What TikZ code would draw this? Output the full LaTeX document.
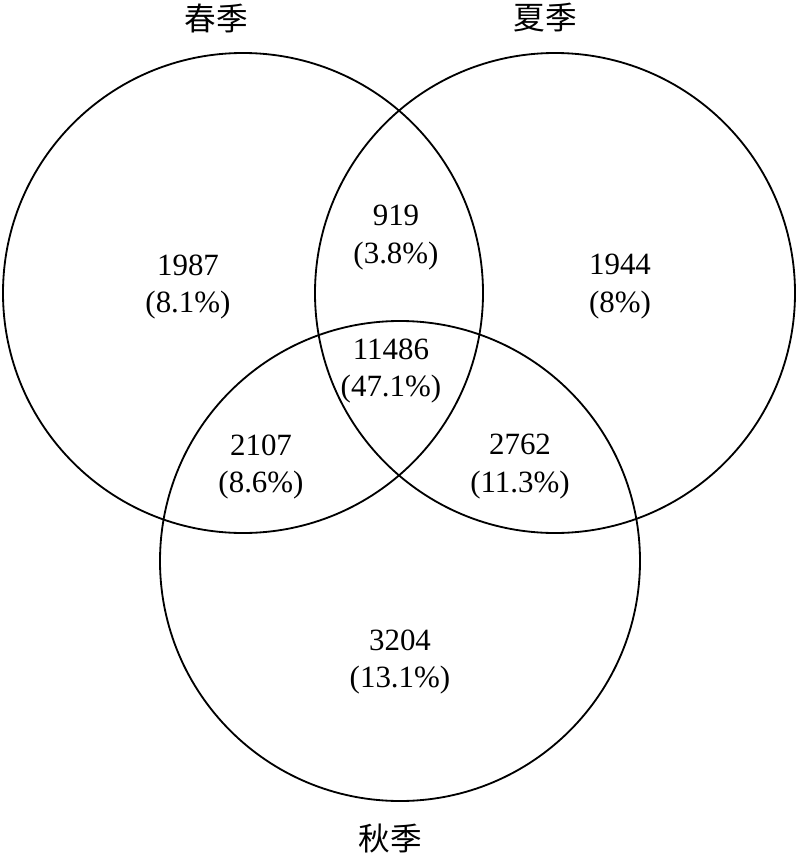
\documentclass[tikz,border=0pt]{standalone}
\usepackage{fontspec}
\setmainfont{Liberation Serif}
\newfontfamily\cjk{Noto Sans CJK SC}
\begin{document}
\begin{tikzpicture}[x=0.025cm, y=-0.025cm,
    count/.style={align=center, font=\fontsize{22}{27}\selectfont},
    season/.style={font=\cjk\fontsize{22.5}{24}\selectfont}]
  \useasboundingbox (0,0) rectangle (800,855);
  % Circles
  \draw[line width=1.3pt] (243, 293) circle (240);
  \draw[line width=1.3pt] (555, 293) circle (240);
  \draw[line width=1.3pt] (400, 561) circle (240);
  % Headers
  \node (spring) [season] at (216, 18) {春季};
  \node (summer) [season] at (545, 18) {夏季};
  \node (autumn) [season] at (390, 838) {秋季};
  % Counts
  \node (onlyA) [count] at (188, 287) {1987\\(8.1\%)};
  \node (onlyB) [count] at (620, 287) {1944\\(8\%)};
  \node (AB) [count] at (396, 238) {919\\(3.8\%)};
  \node (ABC) [count] at (391, 371) {11486\\(47.1\%)};
  \node (AC) [count] at (261, 467) {2107\\(8.6\%)};
  \node (BC) [count] at (520, 467) {2762\\(11.3\%)};
  \node (onlyC) [count] at (400, 662) {3204\\(13.1\%)};
\end{tikzpicture}
\end{document}
